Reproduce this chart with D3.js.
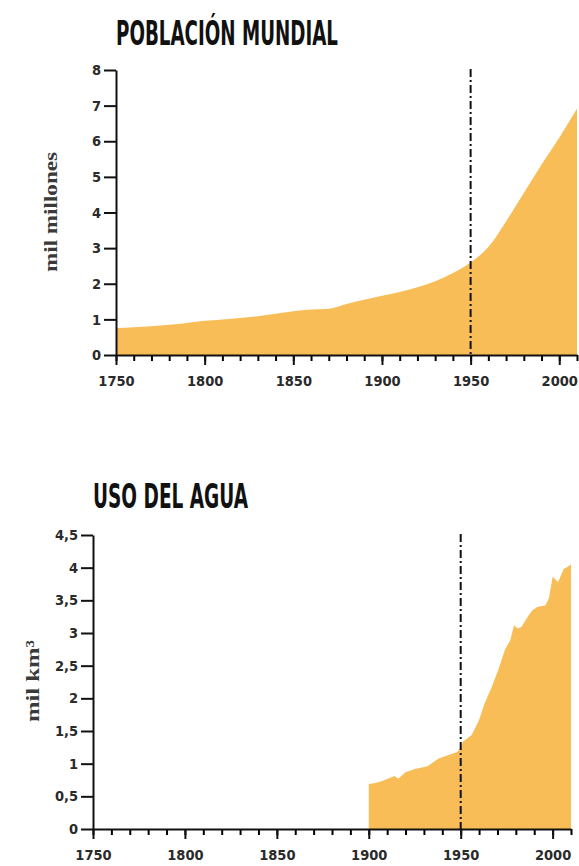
<!DOCTYPE html>
<html lang="es">
<head>
<meta charset="UTF-8">
<title>Población mundial y uso del agua</title>
<style>
  body { margin: 0; background: #fff; }
  .tick text { font-family: "DejaVu Sans Condensed", "Liberation Sans Narrow", sans-serif; font-weight: bold; font-size: 14.5px; fill: #2a2a2a; }
  .title { font-family: "DejaVu Sans Condensed", "Liberation Sans Narrow", sans-serif; font-weight: bold; fill: #111; }
  .ylab { font-family: "Liberation Serif", "DejaVu Serif", serif; font-weight: bold; fill: #3a3a3a; }
</style>
</head>
<body>
<svg width="579" height="866"></svg>
<script src="https://cdn.jsdelivr.net/npm/d3@7"></script>
<script>
var popYears = [1750,1760,1770,1780,1790,1800,1810,1820,1830,1840,1850,1860,1870,1880,1890,1900,1910,1920,1930,1940,1950,1960,1970,1980,1990,2000,2010]
var popValues = [0.76,0.78,0.81,0.85,0.90,0.96,1.00,1.04,1.09,1.16,1.23,1.28,1.30,1.43,1.55,1.66,1.77,1.90,2.07,2.30,2.60,3.03,3.75,4.55,5.35,6.10,6.92]

var waterYears = [1900,1903,1907,1912,1914,1916,1920,1925,1932,1938,1943,1948,1950,1951,1956,1960,1963,1967,1971,1974,1977,1979,1981,1983,1987,1989,1992,1996,1998,2000,2003,2006,2008,2010]
var waterValues = [0.69,0.70,0.73,0.79,0.81,0.77,0.87,0.92,0.96,1.08,1.13,1.18,1.24,1.33,1.44,1.67,1.92,2.18,2.48,2.74,2.89,3.12,3.07,3.09,3.27,3.35,3.40,3.42,3.53,3.86,3.78,3.98,4.01,4.05]

var xMajor = [1750,1800,1850,1900,1950,2000]
var xMinor = d3.range(1750, 2011, 10)
var popTicks = [0,1,2,3,4,5,6,7,8]
var waterTicks = [0,0.5,1,1.5,2,2.5,3,3.5,4,4.5]
var markYear = 1950
var fillColor = '#f8bd56'

var svg = d3.select('svg')

function panel(o){
  var data = o.years.map((y,i)=>({year:y, value:o.values[i]}))
  var x = d3.scaleLinear().domain([1750,2010]).range([o.left,o.right])
  var y = d3.scaleLinear().domain([0,o.max]).range([o.bottom,o.top])
  var g = svg.append('g')

  g.append('path').datum(data)
    .attr('fill',fillColor)
    .attr('d', d3.area().curve(o.curve).x(d=>x(d.year)).y0(y(0)).y1(d=>y(d.value)))

  g.append('line')
    .attr('x1',x(markYear)).attr('x2',x(markYear))
    .attr('y1',o.top-1).attr('y2',o.bottom)
    .attr('stroke','#111').attr('stroke-width',2)
    .attr('stroke-dasharray','8,3,2,3')

  // minor ticks
  g.append('g').attr('transform',`translate(0,${o.bottom})`)
    .call(d3.axisBottom(x).tickValues(xMinor).tickSize(6).tickFormat(''))
    .call(a=>a.select('.domain').remove())
    .call(a=>a.selectAll('line').attr('stroke-width',2))
  g.append('g').attr('transform',`translate(0,${o.bottom})`)
    .call(d3.axisBottom(x).tickValues(xMajor).tickSize(10).tickSizeOuter(0).tickPadding(11).tickFormat(d3.format('d')))
    .call(a=>a.selectAll('line,.domain').attr('stroke-width',2).attr('stroke','#111'))
    .call(a=>a.selectAll('text').attr('dy','0.71em'))

  g.append('g').attr('transform',`translate(${o.left},0)`)
    .call(d3.axisLeft(y).tickValues(o.ticks).tickSize(12).tickSizeOuter(0).tickPadding(3)
      .tickFormat(d=>String(d).replace('.',',')))
    .call(a=>a.selectAll('line,.domain').attr('stroke-width',2).attr('stroke','#111'))

  svg.append('text').attr('class','title')
    .attr('x',o.titleX).attr('y',o.titleY)
    .attr('font-size',33)
    .attr('textLength',o.titleW).attr('lengthAdjust','spacingAndGlyphs')
    .text(o.title)

  svg.append('text').attr('class','ylab')
    .attr('transform',`translate(${o.labX},${o.labY}) rotate(-90)`)
    .attr('text-anchor','middle')
    .attr('font-size',19)
    .attr('textLength',o.labW).attr('lengthAdjust','spacingAndGlyphs')
    .text(o.label)
}

panel({years:popYears, values:popValues, left:116, right:577, top:70, bottom:355, max:8,
  ticks:popTicks, curve:d3.curveMonotoneX,
  title:'POBLACIÓN MUNDIAL', titleX:116, titleY:45, titleW:222,
  label:'mil millones', labX:57, labY:212, labW:120})

panel({years:waterYears, values:waterValues, left:93, right:571, top:535, bottom:829, max:4.5,
  ticks:waterTicks, curve:d3.curveLinear,
  title:'USO DEL AGUA', titleX:93, titleY:508, titleW:155,
  label:'mil km³', labX:39, labY:681, labW:82})
</script>
</body>
</html>
